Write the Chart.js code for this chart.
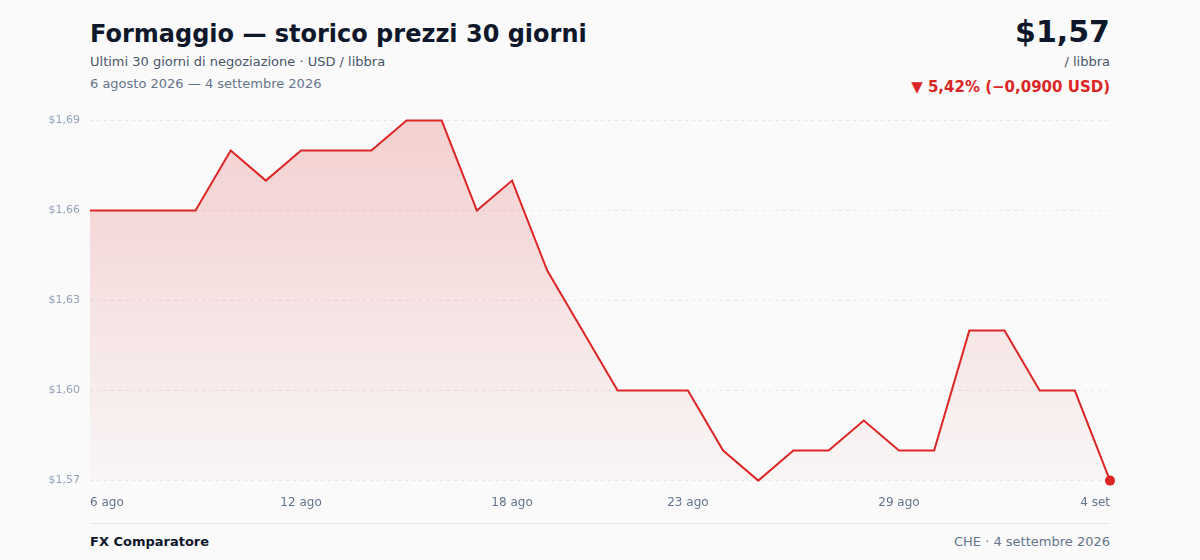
<!DOCTYPE html>
<html lang="it">
<head>
<meta charset="utf-8">
<script src="https://cdn.jsdelivr.net/npm/chart.js@4.4.1/dist/chart.umd.min.js"></script>
<style>
  html, body { margin:0; padding:0; background:#fafafa; }
  body { width:1200px; height:560px; position:relative; font-family:"DejaVu Sans", sans-serif; overflow:hidden; }
  .abs { position:absolute; white-space:nowrap; }
  #title { left:90px; top:20px; font-size:24px; font-weight:bold; color:#0f172a; }
  #sub { left:90px; top:54px; font-size:13px; color:#475569; }
  #range { left:90px; top:76px; font-size:13px; color:#64748b; }
  #price { right:90px; top:14px; font-size:30px; font-weight:bold; color:#0f172a; text-align:right; }
  #unit { right:90px; top:54px; font-size:13px; color:#475569; text-align:right; }
  #chg { right:90px; top:78px; font-size:15px; font-weight:bold; color:#dc2626; text-align:right; }
  #wrap { position:absolute; left:30px; top:104px; width:1095px; height:421px; }
  #rule { position:absolute; left:90px; width:1020px; top:523px; height:1px; background:#e5e7eb; }
  #brand { left:90px; top:534px; font-size:13px; font-weight:bold; color:#0f172a; }
  #src { right:90px; top:534px; font-size:13px; color:#64748b; text-align:right; }
</style>
</head>
<body>
<div class="abs" id="title">Formaggio — storico prezzi 30 giorni</div>
<div class="abs" id="sub">Ultimi 30 giorni di negoziazione · USD / libbra</div>
<div class="abs" id="range">6 agosto 2026 — 4 settembre 2026</div>
<div class="abs" id="price">$1,57</div>
<div class="abs" id="unit">/ libbra</div>
<div class="abs" id="chg">▼ 5,42% (−0,0900 USD)</div>
<div id="wrap"><canvas id="c"></canvas></div>
<div id="rule"></div>
<div class="abs" id="brand">FX Comparatore</div>
<div class="abs" id="src">CHE · 4 settembre 2026</div>
<script>
const dates = ["6 ago","7 ago","8 ago","9 ago","10 ago","11 ago","12 ago","13 ago","14 ago","15 ago",
  "16 ago","17 ago","18 ago","19 ago","20 ago","21 ago","22 ago","23 ago","24 ago","25 ago",
  "26 ago","27 ago","28 ago","29 ago","30 ago","31 ago","1 set","2 set","3 set","4 set"];
const prices = [1.66,1.66,1.66,1.66,1.68,1.67,1.68,1.68,1.68,1.69,
  1.69,1.66,1.67,1.64,1.62,1.60,1.60,1.60,1.58,1.57,
  1.58,1.58,1.59,1.58,1.58,1.62,1.62,1.60,1.60,1.57];
const xTickLabels = ["6 ago","12 ago","18 ago","23 ago","29 ago","4 set"];
const yTicks = [1.57,1.60,1.63,1.66,1.69];

const fmt = v => "$" + v.toFixed(2).replace(".", ",");

new Chart(document.getElementById("c"), {
  type: "line",
  data: {
    labels: dates,
    datasets: [{
      data: prices,
      borderColor: "#dc2626",
      borderWidth: 2,
      tension: 0,
      fill: "start",
      clip: false,
      backgroundColor: (ctx) => {
        const a = ctx.chart.chartArea;
        if (!a) return "rgba(220,38,38,0.1)";
        const g = ctx.chart.ctx.createLinearGradient(0, a.top, 0, a.bottom);
        g.addColorStop(0, "rgba(220,38,38,0.20)");
        g.addColorStop(1, "rgba(220,38,38,0.02)");
        return g;
      },
      pointRadius: prices.map((_, i) => i === prices.length - 1 ? 5 : 0),
      pointHoverRadius: 0,
      pointBackgroundColor: "#dc2626",
      pointBorderWidth: 0
    }]
  },
  options: {
    responsive: true,
    maintainAspectRatio: false,
    animation: false,
    layout: { padding: 0 },
    plugins: { legend: { display: false }, tooltip: { enabled: false } },
    scales: {
      x: {
        offset: false,
        border: { display: false },
        grid: { display: false, drawTicks: false },
        ticks: {
          autoSkip: false,
          maxRotation: 0,
          align: "inner",
          padding: 15,
          color: "#64748b",
          font: { family: "DejaVu Sans", size: 12 },
          callback: function(v, i) { const l = dates[i]; return xTickLabels.includes(l) ? l : ""; }
        }
      },
      y: {
        min: 1.57,
        max: 1.69,
        border: { display: false, dash: [3, 4] },
        afterBuildTicks: (axis) => { axis.ticks = yTicks.map(v => ({ value: v })); },
        afterFit: (axis) => { axis.width = 60; },
        grid: { color: "#e5e7eb", lineWidth: 1, drawTicks: false },
        ticks: {
          padding: 10,
          color: "#94a3b8",
          font: { family: "DejaVu Sans", size: 11 },
          callback: (v) => fmt(v)
        }
      }
    }
  }
});
</script>
</body>
</html>
